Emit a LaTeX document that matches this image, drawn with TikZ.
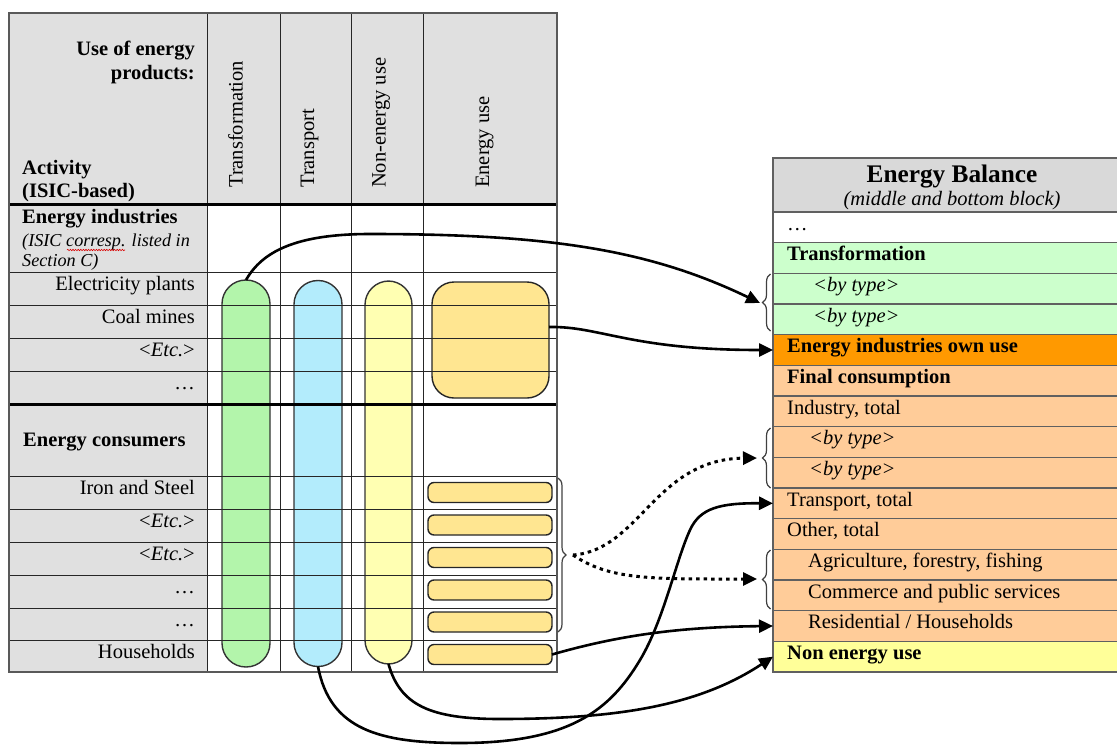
\documentclass[tikz,border=0pt]{standalone}
\usepackage{fontspec}
\setmainfont{Liberation Serif}
\usetikzlibrary{arrows.meta,decorations.pathreplacing,decorations.pathmorphing,calc}
\newcommand{\fntmain}{\fontsize{20.5}{24}\selectfont}
\newcommand{\fntsmall}{\fontsize{18.2}{21}\selectfont}
\newcommand{\fntbig}{\fontsize{25.3}{29}\selectfont}
\definecolor{lgray}{RGB}{224,224,224}
\definecolor{rgray}{RGB}{217,217,217}
\definecolor{capgreen}{RGB}{179,245,171}
\definecolor{capblue}{RGB}{179,236,252}
\definecolor{capyellow}{RGB}{255,255,178}
\definecolor{boxgold}{RGB}{255,230,145}
\definecolor{rgreen}{RGB}{204,255,204}
\definecolor{rdorange}{RGB}{255,153,0}
\definecolor{rlorange}{RGB}{255,204,153}
\definecolor{ryellow}{RGB}{255,255,153}
\definecolor{rline}{RGB}{96,96,96}
\begin{document}
\begin{tikzpicture}[x=1pt,y=-1pt,
 capsule/.style={draw=black!80, line width=1.4pt, rounded corners=23.9pt, inner sep=0pt, outer sep=0pt, minimum width=48pt},
 goldbox/.style={draw=black!85, line width=1.4pt, fill=boxgold, inner sep=0pt, outer sep=0pt},
 gridline/.style={draw=black!85, line width=1pt},
 thickline/.style={draw=black, line width=3pt},
 ltxt/.style={font=\fntmain, inner sep=0pt, anchor=base east},
 btxt/.style={font=\fntmain\bfseries, inner sep=0pt, anchor=base west},
 rot/.style={font=\fntmain, inner sep=0pt, rotate=90, anchor=base west},
 rrow/.style={draw=rline, line width=1.4pt, minimum width=358pt, minimum height=30.67pt, inner sep=0pt, outer sep=0pt, anchor=north west},
 rtxt/.style={font=\fntmain, inner sep=0pt, anchor=base west},
 brc/.style={draw=black!75, line width=1.2pt, decorate, decoration={brace, amplitude=8pt}},
 conn/.style={draw=black, line width=2.6pt, -{Triangle[length=14pt,width=13pt]}},
 dotconn/.style={conn, dash pattern=on 3.5pt off 4pt, line width=3pt},
]
\useasboundingbox (0,0) rectangle (1117,745);

% ---------- left table backgrounds ----------
\fill[lgray] (9,13) rectangle (557,204);
\fill[lgray] (9,204) rectangle (207,672);

% ---------- capsules and boxes ----------
\node[capsule, fill=capgreen, minimum height=387pt] (gr) at (246,473.5) {};
\node[capsule, fill=capblue, minimum height=386pt] (bl) at (318,473.5) {};
\node[capsule, fill=capyellow, minimum height=383pt, minimum width=47pt] (ny) at (388.5,472.5) {};
\node[goldbox, rounded corners=22pt, minimum width=117pt, minimum height=116pt] (eb) at (490.5,340) {};
\node[goldbox, rounded corners=6pt, minimum width=124pt, minimum height=20pt] (eb1) at (490,492.5) {};
\node[goldbox, rounded corners=6pt, minimum width=124pt, minimum height=20pt] (eb2) at (490,525) {};
\node[goldbox, rounded corners=6pt, minimum width=124pt, minimum height=20pt] (eb3) at (490,557.5) {};
\node[goldbox, rounded corners=6pt, minimum width=124pt, minimum height=20pt] (eb4) at (490,590) {};
\node[goldbox, rounded corners=6pt, minimum width=124pt, minimum height=20pt] (eb5) at (490,622) {};
\node[goldbox, rounded corners=6pt, minimum width=124pt, minimum height=20pt] (hb) at (490,654.5) {};

% ---------- left table grid ----------
\foreach \xx in {207,280,351,423} \draw[gridline] (\xx,13) -- (\xx,672);
\foreach \yy in {272,305,338,371,476,509,542,575,608,640} \draw[gridline] (9,\yy) -- (557,\yy);
\draw[thickline] (9,204) -- (557,204);
\draw[thickline] (9,404) -- (557,404);
\draw[draw=black!65, line width=1.3pt] (9,13) rectangle (557,672);

% ---------- left table texts ----------
\node[btxt, anchor=base east] (h1) at (195,55) {Use of energy};
\node[btxt, anchor=base east] (h2) at (195,79) {products:};
\node[btxt] (h3) at (22,174) {Activity};
\node[btxt] (h4) at (22,197) {(ISIC-based)};
\node[rot] (c1) at (242.5,188) {Transformation};
\node[rot] (c2) at (314,188) {Transport};
\node[rot] (c3) at (385.5,188) {Non-energy use};
\node[rot] (c4) at (489,188) {Energy use};

\node[btxt] (ei) at (22,223) {Energy industries};
\node[font=\fntsmall\itshape, inner sep=0pt, anchor=base west] (ein1) at (22,246) {(ISIC corresp. listed in};
\node[font=\fntsmall\itshape, inner sep=0pt, anchor=base west] (ein2) at (22,266) {Section C)};
\draw[red!85!black, line width=0.6pt, decorate, decoration={snake, amplitude=0.7pt, segment length=2.6pt}] (67,250) -- (125,250);
\node[ltxt] (l1) at (195,290.5) {Electricity plants};
\node[ltxt] (l2) at (195,323.5) {Coal mines};
\node[ltxt] (l3) at (195,356.5) {<\textit{Etc.}>};
\node[ltxt] (l4) at (195,389.5) {…};
\node[btxt] (ec) at (23,446) {Energy consumers};
\node[ltxt] (l5) at (195,494.5) {Iron and Steel};
\node[ltxt] (l6) at (195,527.5) {<\textit{Etc.}>};
\node[ltxt] (l7) at (195,560.5) {<\textit{Etc.}>};
\node[ltxt] (l8) at (195,593.5) {…};
\node[ltxt] (l9) at (195,626.5) {…};
\node[ltxt] (l10) at (195,658.5) {Households};

% ---------- right table ----------
\node[rrow, fill=rgray, minimum height=54pt] (rh) at (773,158) {};
\node[font=\fntbig\bfseries, inner sep=0pt, anchor=base] (rht) at (952,182) {Energy Balance};
\node[font=\fntmain\itshape, inner sep=0pt, anchor=base] (rhs) at (952,205) {(middle and bottom block)};

\node[rrow, fill=white] (r0) at (773,212) {};
\node[rrow, fill=rgreen] (r1) at (773,242.67) {};
\node[rrow, fill=rgreen] (r2) at (773,273.33) {};
\node[rrow, fill=rgreen] (r3) at (773,304) {};
\node[rrow, fill=rdorange] (own) at (773,334.67) {};
\node[rrow, fill=rlorange] (r5) at (773,365.33) {};
\node[rrow, fill=rlorange] (r6) at (773,396) {};
\node[rrow, fill=rlorange] (r7) at (773,426.67) {};
\node[rrow, fill=rlorange] (r8) at (773,457.33) {};
\node[rrow, fill=rlorange] (trn) at (773,488) {};
\node[rrow, fill=rlorange] (r10) at (773,518.67) {};
\node[rrow, fill=rlorange] (r11) at (773,549.33) {};
\node[rrow, fill=rlorange] (r12) at (773,580) {};
\node[rrow, fill=rlorange] (res) at (773,610.67) {};
\node[rrow, fill=ryellow] (nen) at (773,641.33) {};

\node[rtxt] (t0) at (787,230) {…};
\node[rtxt, font=\fntmain\bfseries] (t1) at (787,260.67) {Transformation};
\node[rtxt, font=\fntmain\itshape] (t2) at (813,291.33) {<by type>};
\node[rtxt, font=\fntmain\itshape] (t3) at (813,322) {<by type>};
\node[rtxt, font=\fntmain\bfseries] (t4) at (787,352.67) {Energy industries own use};
\node[rtxt, font=\fntmain\bfseries] (t5) at (787,383.33) {Final consumption};
\node[rtxt] (t6) at (787,414) {Industry, total};
\node[rtxt, font=\fntmain\itshape] (t7) at (809,444.67) {<by type>};
\node[rtxt, font=\fntmain\itshape] (t8) at (809,475.33) {<by type>};
\node[rtxt] (t9) at (787,506) {Transport, total};
\node[rtxt] (t10) at (787,536.67) {Other, total};
\node[rtxt] (t11) at (808,567.33) {Agriculture, forestry, fishing};
\node[rtxt] (t12) at (808,598) {Commerce and public services};
\node[rtxt] (t13) at (808,628.67) {Residential / Households};
\node[rtxt, font=\fntmain\bfseries] (t14) at (787,659.33) {Non energy use};

% ---------- braces ----------
\draw[brc] (558,478) -- (558,632);
\draw[brc] (770.5,331) -- (770.5,274);
\draw[brc] (770.5,488) -- (770.5,428);
\draw[brc] (770.5,609) -- (770.5,550);
\coordinate (lbt) at (573,555);
\coordinate (b1) at (760,303);
\coordinate (b2) at (757,458);
\coordinate (b3) at (757,579);
\coordinate (ebout) at ($(eb.east)+(0,-13)$);

% ---------- connectors ----------
\draw[conn] (gr.north) .. controls (262,252) and (295,234) .. (370,234) .. controls (550,234) and (650,250) .. (b1);
\draw[conn] (ebout) .. controls (600,326) and (630,350) .. (own.west);
\draw[dotconn] (lbt) .. controls (640,550) and (655,459) .. (b2);
\draw[dotconn] (lbt) .. controls (610,580) and (650,579) .. (b3);
\draw[conn] (hb.east) .. controls (620,635) and (680,627) .. (res.west);
\draw[conn] (bl.south) .. controls (330,730) and (380,743) .. (460,743) .. controls (570,743) and (610,710) .. (640,660) .. controls (664,620) and (676,560) .. (690,530) .. controls (700,508) and (720,503) .. (trn.west);
\draw[conn] (ny.south) .. controls (400,705) and (430,719) .. (500,719) .. controls (620,719) and (700,705) .. (nen.west);
\end{tikzpicture}
\end{document}
